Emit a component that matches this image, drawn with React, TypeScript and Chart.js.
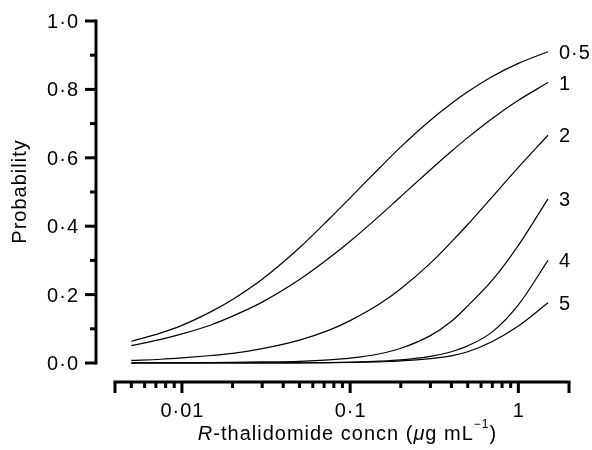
import React, { useEffect, useRef } from "react";
import { Chart, registerables } from "chart.js";

Chart.register(...registerables);

// R-thalidomide concentration (µg/mL) at which the curves are read
const concn = [0.005, 0.0075, 0.01, 0.015, 0.02, 0.03, 0.05, 0.075, 0.1, 0.15, 0.2, 0.3, 0.4, 0.5, 0.7, 1.0, 1.5];

// Probability curves
const p05 = [0.063, 0.088, 0.11, 0.151, 0.186, 0.245, 0.337, 0.421, 0.483, 0.571, 0.632, 0.71, 0.759, 0.793, 0.838, 0.876, 0.91];
const p1 = [0.051, 0.069, 0.085, 0.112, 0.137, 0.178, 0.244, 0.307, 0.356, 0.431, 0.487, 0.565, 0.619, 0.659, 0.715, 0.768, 0.82];
const p2 = [0.0075, 0.011, 0.015, 0.022, 0.028, 0.042, 0.067, 0.096, 0.124, 0.173, 0.217, 0.292, 0.354, 0.405, 0.486, 0.572, 0.666];
const p3 = [0.0005, 0.001, 0.001, 0.0015, 0.002, 0.003, 0.005, 0.009, 0.014, 0.027, 0.043, 0.08, 0.122, 0.167, 0.242, 0.344, 0.48];
const p4 = [0, 0, 0, 0, 0, 0.0002, 0.0006, 0.0013, 0.0024, 0.0053, 0.009, 0.0195, 0.033, 0.05, 0.091, 0.17, 0.3];
const p5 = [0, 0, 0, 0, 0, 0.0001, 0.0004, 0.0008, 0.0015, 0.0035, 0.006, 0.013, 0.021, 0.033, 0.063, 0.108, 0.176];

const seriesValues = [p05, p1, p2, p3, p4, p5];
const seriesLabels = ["0·5", "1", "2", "3", "4", "5"];

const yTickValues = [0, 0.2, 0.4, 0.6, 0.8, 1.0];
const yTickLabels = ["0·0", "0·2", "0·4", "0·6", "0·8", "1·0"];
const yMinorTicks = [0.1, 0.3, 0.5, 0.7, 0.9];

const xTickValues = [0.01, 0.1, 1];
const xTickLabels = ["0·01", "0·1", "1"];
const xMinorTicks = [
  0.005, 0.006, 0.007, 0.008, 0.009,
  0.02, 0.03, 0.04, 0.05, 0.06, 0.07, 0.08, 0.09,
  0.2, 0.3, 0.4, 0.5, 0.6, 0.7, 0.8, 0.9,
];
const xMin = 0.004;
const xMax = 2;
const yMin = 0;
const yMax = 1;

const yTitle = "Probability";

const FONT = '"Liberation Sans", Arial, Helvetica, sans-serif';
const FS = 20;
const SP = 1.0;

function spacedWidth(ctx: CanvasRenderingContext2D, text: string, sp: number) {
  const chars = Array.from(text);
  let w = 0;
  chars.forEach((ch) => (w += ctx.measureText(ch).width));
  return w + sp * (chars.length - 1);
}

function drawSpaced(
  ctx: CanvasRenderingContext2D,
  text: string,
  x: number,
  y: number,
  sp: number,
  align: "left" | "center" | "right"
) {
  const w = spacedWidth(ctx, text, sp);
  let cx = align === "center" ? x - w / 2 : align === "right" ? x - w : x;
  ctx.textAlign = "left";
  Array.from(text).forEach((ch) => {
    ctx.fillText(ch, cx, y);
    cx += ctx.measureText(ch).width + sp;
  });
}

const axesPlugin = {
  id: "customAxes",
  afterDraw(chart: any) {
    const ctx: CanvasRenderingContext2D = chart.ctx;
    const xs = chart.scales.x;
    const ys = chart.scales.y;
    const area = chart.chartArea;
    const axisX = area.left - 19;
    const axisY = area.bottom + 19;
    ctx.save();
    ctx.strokeStyle = "#000";
    ctx.fillStyle = "#000";
    ctx.lineWidth = 3;
    ctx.lineCap = "butt";

    const seg = (x1: number, y1: number, x2: number, y2: number) => {
      ctx.beginPath();
      ctx.moveTo(x1, y1);
      ctx.lineTo(x2, y2);
      ctx.stroke();
    };

    // Y axis
    const yTop = ys.getPixelForValue(yMax);
    const yBot = ys.getPixelForValue(yMin);
    seg(axisX, yTop - 1.5, axisX, yBot + 1.5);
    yTickValues.forEach((v) => {
      const py = ys.getPixelForValue(v);
      seg(axisX - 11, py, axisX, py);
    });
    yMinorTicks.forEach((v) => {
      const py = ys.getPixelForValue(v);
      seg(axisX - 6, py, axisX, py);
    });

    // X axis
    const xL = xs.getPixelForValue(xMin);
    const xR = xs.getPixelForValue(xMax);
    seg(xL - 1.5, axisY, xR + 1.5, axisY);
    [xMin, xMax, ...xTickValues].forEach((v) => {
      const px = xs.getPixelForValue(v);
      seg(px, axisY, px, axisY + 11);
    });
    xMinorTicks.forEach((v) => {
      const px = xs.getPixelForValue(v);
      seg(px, axisY, px, axisY + 6);
    });

    // Tick labels
    ctx.font = `${FS}px ${FONT}`;
    ctx.textBaseline = "alphabetic";
    yTickValues.forEach((v, i) => {
      const py = ys.getPixelForValue(v);
      drawSpaced(ctx, yTickLabels[i], axisX - 18, py + 7, SP, "right");
    });
    xTickValues.forEach((v, i) => {
      const px = xs.getPixelForValue(v);
      drawSpaced(ctx, xTickLabels[i], px, axisY + 35, SP, "center");
    });

    // Curve labels at the end of each curve
    chart.data.datasets.forEach((ds: any, i: number) => {
      const last = ds.data[ds.data.length - 1];
      const px = xs.getPixelForValue(last.x);
      const py = ys.getPixelForValue(last.y);
      drawSpaced(ctx, seriesLabels[i], px + 11, py + 7, SP, "left");
    });

    // Y title
    ctx.save();
    ctx.translate(26, (yTop + yBot) / 2);
    ctx.rotate(-Math.PI / 2);
    ctx.font = `${FS}px ${FONT}`;
    drawSpaced(ctx, yTitle, 0, 0, SP, "center");
    ctx.restore();

    // X title with italic R and µ and superscript
    const parts: { t: string; font: string; dy: number }[] = [
      { t: "R", font: `italic ${FS}px ${FONT}`, dy: 0 },
      { t: "-thalidomide concn (", font: `${FS}px ${FONT}`, dy: 0 },
      { t: "μ", font: `italic ${FS}px ${FONT}`, dy: 0 },
      { t: "g mL", font: `${FS}px ${FONT}`, dy: 0 },
      { t: "−1", font: `12px ${FONT}`, dy: -12 },
      { t: ")", font: `${FS}px ${FONT}`, dy: 0 },
    ];
    let total = 0;
    parts.forEach((p) => {
      ctx.font = p.font;
      total += spacedWidth(ctx, p.t, SP) + SP;
    });
    total -= SP;
    let cx = (xL + xR) / 2 + 5 - total / 2;
    const baseY = axisY + 58;
    parts.forEach((p) => {
      ctx.font = p.font;
      drawSpaced(ctx, p.t, cx, baseY + p.dy, SP, "left");
      cx += spacedWidth(ctx, p.t, SP) + SP;
    });

    ctx.restore();
  },
};

export default function App() {
  const canvasRef = useRef<HTMLCanvasElement | null>(null);

  useEffect(() => {
    if (!canvasRef.current) return;
    const chart = new Chart(canvasRef.current, {
      type: "line",
      data: {
        datasets: seriesValues.map((vals, i) => ({
          label: seriesLabels[i],
          data: concn.map((c, j) => ({ x: c, y: vals[j] })),
          borderColor: "#000",
          borderWidth: 1.2,
          pointRadius: 0,
          fill: false,
          cubicInterpolationMode: "monotone" as const,
          clip: 4,
        })),
      },
      options: {
        responsive: false,
        animation: false,
        layout: { padding: { left: 115, right: 23, top: 21, bottom: 87 } },
        scales: {
          x: { type: "logarithmic", min: xMin, max: xMax, display: false },
          y: { type: "linear", min: yMin, max: yMax, display: false },
        },
        plugins: {
          legend: { display: false },
          tooltip: { enabled: false },
        },
      },
      plugins: [axesPlugin],
    });
    return () => chart.destroy();
  }, []);

  return (
    <div style={{ position: "absolute", left: 0, top: 0, width: 592, height: 450, background: "#fff" }}>
      <canvas ref={canvasRef} width={592} height={450} style={{ display: "block" }} />
    </div>
  );
}
